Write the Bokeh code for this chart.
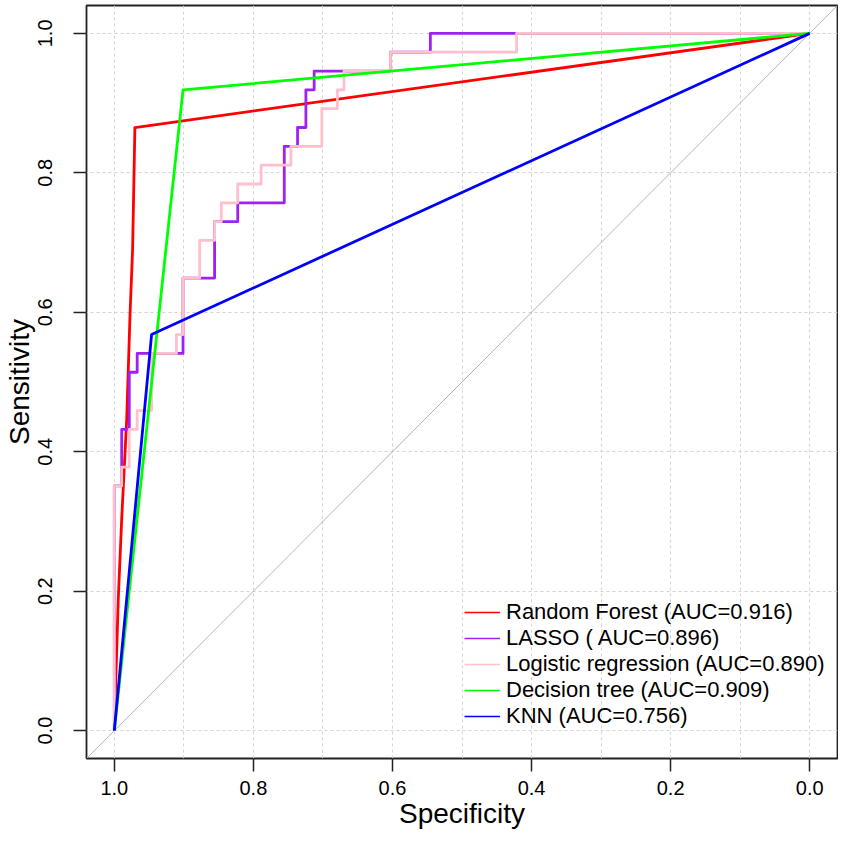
import math
from bokeh.plotting import figure
from bokeh.models import (Range1d, FixedTicker, Slope, Legend, LegendItem,
                          PrintfTickFormatter, ColumnDataSource)
from bokeh.embed import file_html
from bokeh.resources import INLINE

# ---------------- data ----------------
# Random Forest: ROC vertices (specificity, sensitivity)
rf_spec = [1.0, 0.999, 0.9943, 0.9894, 0.9822, 0.9775, 0.9737, 0.9704, 0.0]
rf_sens = [0.0, 0.036, 0.189, 0.303, 0.446, 0.594, 0.690, 0.865, 1.0]

# LASSO: step curve; at each specificity the sensitivity rises to the given value
lasso_spec = [1.0, 0.9894, 0.9785, 0.9671, 0.9012, 0.8558, 0.8225, 0.7556,
              0.7365, 0.7245, 0.7126, 0.6028, 0.5455, 0.0]
lasso_sens = [0.351, 0.432, 0.514, 0.541, 0.649, 0.730, 0.757, 0.838,
              0.865, 0.919, 0.946, 0.973, 1.0, 1.0]

# Logistic regression: step curve
logit_spec = [1.0, 0.9894, 0.9785, 0.9671, 0.9464, 0.9107, 0.9012, 0.8773,
              0.8558, 0.8462, 0.8225, 0.7889, 0.7460, 0.7016, 0.6793, 0.6697,
              0.6028, 0.4215, 0.0]
logit_sens = [0.351, 0.378, 0.432, 0.459, 0.541, 0.568, 0.649, 0.703,
              0.730, 0.757, 0.784, 0.811, 0.838, 0.892, 0.919, 0.946,
              0.973, 1.0, 1.0]

# Decision tree
dt_spec = [1.0, 0.9012, 0.0]
dt_sens = [0.0, 0.919, 1.0]

# KNN
knn_spec = [1.0, 0.9464, 0.0]
knn_sens = [0.0, 0.568, 1.0]

labels = ["Random Forest (AUC=0.916)", "LASSO ( AUC=0.896)",
          "Logistic regression (AUC=0.890)", "Decision tree (AUC=0.909)",
          "KNN (AUC=0.756)"]
colors = ["#FF0000", "#A020F0", "#FFC0CB", "#00FF00", "#0000FF"]

tick_vals = [0.0, 0.2, 0.4, 0.6, 0.8, 1.0]
xgrid_vals = [0.0, 0.1, 0.2, 0.3, 0.4, 0.5, 0.6, 0.7, 0.8, 0.9, 1.0]


def step_path(spec, sens):
    xs, ys = [1.0], [0.0]
    prev = 0.0
    for s, v in zip(spec, sens):
        xs.append(s); ys.append(prev)
        xs.append(s); ys.append(v)
        prev = v
    return xs, ys


FONT = "Liberation Sans"

p = figure(width=838, height=833,
           x_range=Range1d(1.04, -0.04), y_range=Range1d(-0.04, 1.04),
           output_backend="svg", toolbar_location=None,
           min_border_left=86, min_border_right=1,
           min_border_top=5, min_border_bottom=75)

p.background_fill_color = "white"
p.border_fill_color = "white"
p.outline_line_color = "#222222"
p.outline_line_width = 1.8

# grids
p.xgrid.ticker = FixedTicker(ticks=xgrid_vals)
p.ygrid.ticker = FixedTicker(ticks=tick_vals)
for g in (p.xgrid, p.ygrid):
    g.grid_line_color = "#D3D3D3"
    g.grid_line_dash = "3 3"
    g.grid_line_width = 1

# axes
for ax in (p.xaxis, p.yaxis):
    ax.ticker = FixedTicker(ticks=tick_vals)
    ax.formatter = PrintfTickFormatter(format="%.1f")
    ax.axis_line_color = None
    ax.major_tick_in = 0
    ax.major_tick_out = 13
    ax.major_tick_line_color = "#222222"
    ax.major_tick_line_width = 1.5
    ax.minor_tick_line_color = None
    ax.major_label_text_font = FONT
    ax.major_label_text_font_size = "20px"
    ax.major_label_text_color = "black"
    ax.axis_label_text_font = FONT
    ax.axis_label_text_font_size = "28px"
    ax.axis_label_text_font_style = "normal"
    ax.axis_label_text_color = "black"

p.xaxis.axis_label = "Specificity"
p.yaxis.axis_label = "Sensitivity"
p.xaxis.major_label_standoff = 9
p.xaxis.axis_label_standoff = 0
p.yaxis.major_label_orientation = "vertical"
p.yaxis.major_label_standoff = 21
p.yaxis.axis_label_standoff = 1

# diagonal reference
diag = Slope(gradient=-1, y_intercept=1, line_color="#B5B5B5", line_width=1,
             level="underlay")
p.add_layout(diag)

# curves
curves = [
    (rf_spec, rf_sens),
    step_path(lasso_spec, lasso_sens),
    step_path(logit_spec, logit_sens),
    (dt_spec, dt_sens),
    (knn_spec, knn_sens),
]
for (xs, ys), c in zip(curves, colors):
    src = ColumnDataSource(data=dict(x=xs, y=ys))
    p.line("x", "y", source=src, line_color=c, line_width=2.8,
           line_join="round")

# legend with thin sample lines (renderers hold no visible data)
items = []
for lab, c in zip(labels, colors):
    r = p.line(x=[float("nan")], y=[float("nan")], line_color=c, line_width=1.3)
    items.append(LegendItem(label=lab, renderers=[r]))

legend = Legend(items=items, location=(378, 29))
legend.border_line_color = None
legend.background_fill_alpha = 0
legend.padding = 0
legend.margin = 0
legend.spacing = 0
legend.glyph_width = 36
legend.glyph_height = 26
legend.label_height = 26
legend.label_standoff = 6
legend.label_text_font = FONT
legend.label_text_font_size = "22px"
legend.label_text_color = "black"
p.add_layout(legend)

open("out.html", "w").write(file_html(p, INLINE))
